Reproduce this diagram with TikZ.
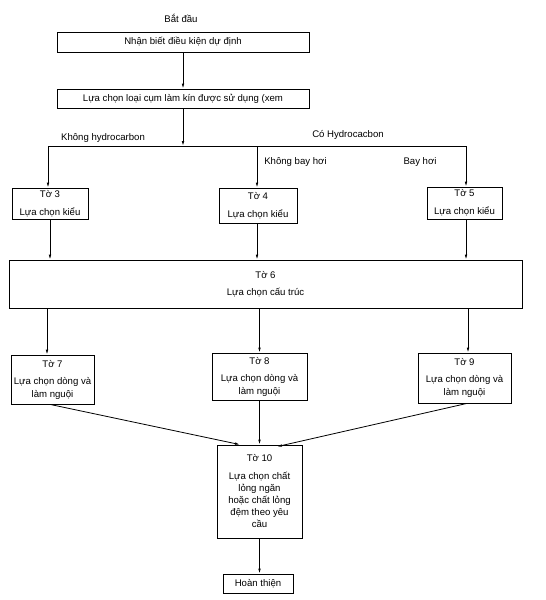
\documentclass[tikz,border=0pt]{standalone}
\usepackage{fontspec}
\setmainfont{Liberation Sans}
\usetikzlibrary{arrows.meta}
\begin{document}
\begin{tikzpicture}[x=1pt,y=-1pt,
  every node/.style={font=\fontsize{9.6}{12}\selectfont, inner sep=0pt},
  box/.style={draw, line width=0.8pt, align=center},
  lbl/.style={align=center},
  link/.style={line width=0.8pt},
  arr/.style={line width=0.8pt, -{Latex[length=5pt,width=2.6pt]}}]
\useasboundingbox (0,0) rectangle (546,600);
\node[lbl] (start) at (181,18) {Bắt đầu};
\node[box, minimum width=252pt, minimum height=20pt] (n1) at (183,42) {Nhận biết điều kiện dự định};
\node[box, minimum width=252pt, minimum height=19pt] (n2) at (183,98.5) {Lựa chọn loại cụm làm kín được sử dụng (xem};
\node[lbl] (lk) at (103,138) {Không hydrocarbon};
\node[lbl] (lc) at (348,135) {Có Hydrocacbon};
\node[lbl] (lkb) at (295.5,162) {Không bay hơi};
\node[lbl] (lb) at (420,162) {Bay hơi};
\node[box, minimum width=76pt, minimum height=31pt] (t3) at (50,203.5) {Tờ 3\\[6pt]Lựa chọn kiểu};
\node[box, minimum width=78pt, minimum height=35pt] (t4) at (258,205.5) {Tờ 4\\[6pt]Lựa chọn kiểu};
\node[box, minimum width=75pt, minimum height=32pt] (t5) at (464.5,203) {Tờ 5\\[6pt]Lựa chọn kiểu};
\node[box, minimum width=513pt, minimum height=48pt] (t6) at (265.5,284) {Tờ 6\\[5pt]Lựa chọn cấu trúc};
\node[box, minimum width=83pt, minimum height=49pt] (t7) at (52.5,379.5) {Tờ 7\\[5pt]Lựa chọn dòng và\\[1pt]làm nguội};
\node[box, minimum width=95pt, minimum height=47pt] (t8) at (259.5,376.5) {Tờ 8\\[5pt]Lựa chọn dòng và\\[1pt]làm nguội};
\node[box, minimum width=93pt, minimum height=50pt] (t9) at (464.5,378) {Tờ 9\\[5pt]Lựa chọn dòng và\\[1pt]làm nguội};
\node[box, minimum width=85pt, minimum height=93pt] (t10) at (259.5,491.5) {Tờ 10\\[6pt]Lựa chọn chất\\lỏng ngăn\\hoặc chất lỏng\\đệm theo yêu\\cầu};
\node[box, minimum width=70pt, minimum height=19pt] (fin) at (258,583.5) {Hoàn thiện};
\coordinate (bar) at (183,146);
\coordinate (bl) at (48,146);
\coordinate (bm) at (257,146);
\coordinate (br) at (466,146);
\coordinate (c7) at (47,0);
\coordinate (c9) at (468,0);
\draw[arr] (n1.south) -- (n2.north);
\draw[arr] (n2.south) -- (bar);
\draw[link] (bl) -- (br);
\draw[arr] (bl) -- (bl |- t3.north);
\draw[arr] (bm) -- (bm |- t4.north);
\draw[arr] (br) -- (br |- t5.north);
\draw[arr] (t3.south) -- (t3.south |- t6.north);
\draw[arr] (bm |- t4.south) -- (bm |- t6.north);
\draw[arr] (br |- t5.south) -- (br |- t6.north);
\draw[arr] (t6.south -| c7) -- (c7 |- t7.north);
\draw[arr] (t6.south -| t8.north) -- (t8.north);
\draw[arr] (t6.south -| c9) -- (c9 |- t9.north);
\draw[arr] ([xshift=-2.5pt]t7.south) -- ([xshift=-19.5pt]t10.north);
\draw[arr] (t8.south) -- (t10.north);
\draw[arr] ([xshift=2.5pt]t9.south) -- ([xshift=17.5pt,yshift=-2pt]t10.north);
\draw[arr] (t10.south) -- (t10.south |- fin.north);
\end{tikzpicture}
\end{document}
